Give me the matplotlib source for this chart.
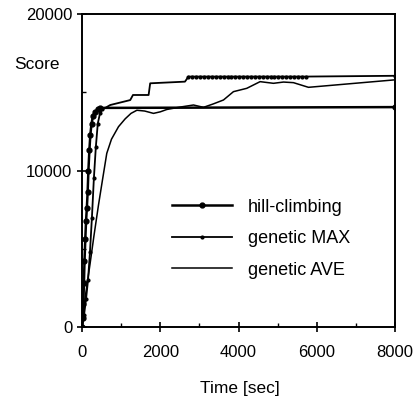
import matplotlib
matplotlib.use("Agg")
import matplotlib.pyplot as plt

plt.rcParams['font.family'] = ['Liberation Sans', 'DejaVu Sans']

# --------- data ---------
hill_t = [0, 15, 30, 45, 60, 80, 100, 120, 140, 160, 185, 210, 240, 280, 330, 400, 460, 8000]
hill_s = [0, 600, 1500, 2800, 4200, 5600, 6800, 7600, 8600, 10000, 11300, 12300, 13000, 13500, 13750, 13900, 14000, 14050]

max_t = [0, 50, 100, 150, 200, 250, 300, 350, 400, 460, 520, 720, 1230, 1300, 1700, 1740,
         2630, 2720, 2820, 2920, 3020, 3120, 3220, 3320, 3420, 3520, 3620, 3720, 3820, 3920, 4020,
         4120, 4220, 4320, 4420, 4520, 4620, 4720, 4820, 4920, 5020, 5120, 5220, 5320, 5420, 5520,
         5620, 5720, 8000]
max_s = [0, 800, 1800, 3000, 4800, 7000, 9500, 11500, 13000, 13700, 13900, 14185, 14500, 14824, 14824, 15570,
         15676, 16000, 16000, 16000, 16000, 16000, 16000, 16000, 16000, 16000, 16000, 16000, 16000, 16000, 16000,
         16000, 16000, 16000, 16000, 16000, 16000, 16000, 16000, 16000, 16000, 16000, 16000, 16000, 16000, 16000,
         16000, 16000, 16050]

ave_t = [0, 77, 200, 300, 418, 520, 630, 750, 930, 1100, 1250, 1400, 1600, 1825, 2000, 2166, 2500, 2848,
         3104, 3350, 3615, 3870, 4211, 4552, 4893, 5150, 5405, 5789, 7960]
ave_s = [0, 1900, 4000, 5800, 7800, 9400, 11100, 12000, 12800, 13300, 13650, 13850, 13800, 13650, 13750,
         13900, 14050, 14185, 14036, 14250, 14505, 15037, 15250, 15676, 15570, 15650, 15612, 15314, 15783]

labels = ["hill-climbing", "genetic MAX", "genetic AVE"]

# --------- plot ---------
fig = plt.figure(figsize=(4.17, 3.98), dpi=100)
ax = fig.add_axes([0.197, 0.178, 0.75, 0.787])

# step corners of genetic MAX carry no dots except on the top plateau
max_marks = [i for i in range(len(max_t)) if i < 11 or max_s[i] >= 16000]

ax.plot(hill_t, hill_s, "k-", lw=1.8, marker="o", ms=3.5, label=labels[0])
ax.plot(max_t, max_s, "k-", lw=1.3, marker="o", ms=2.0, markevery=max_marks, label=labels[1])
ax.plot(ave_t, ave_s, "k-", lw=1.1, label=labels[2])

ax.set_xlim(0, 8000)
ax.set_ylim(0, 20000)
ax.set_xticks([0, 2000, 4000, 6000, 8000])
ax.set_xticks(range(1000, 8000, 2000), minor=True)
ax.set_yticks([0, 10000, 20000])
ax.set_yticks([5000, 15000], minor=True)
ax.tick_params(which="major", direction="inout", length=7, width=1.2, labelsize=12)
ax.tick_params(axis="x", which="major", pad=9.5)
ax.tick_params(axis="y", which="major", pad=3.7)
ax.tick_params(which="minor", direction="in", length=3, width=1)
for s in ax.spines.values():
    s.set_linewidth(1.4)

leg = ax.legend(loc="upper left", bbox_to_anchor=(0.259, 0.439), frameon=False, fontsize=13,
                handlelength=3.3, handletextpad=0.9, labelspacing=0.8, borderpad=0)

fig.text(0.034, 0.839, "Score", fontsize=12.5, ha="left", va="center")
fig.text(0.576, 0.025, "Time [sec]", fontsize=12.5, ha="center", va="center")

plt.savefig("out.png", dpi=100)
